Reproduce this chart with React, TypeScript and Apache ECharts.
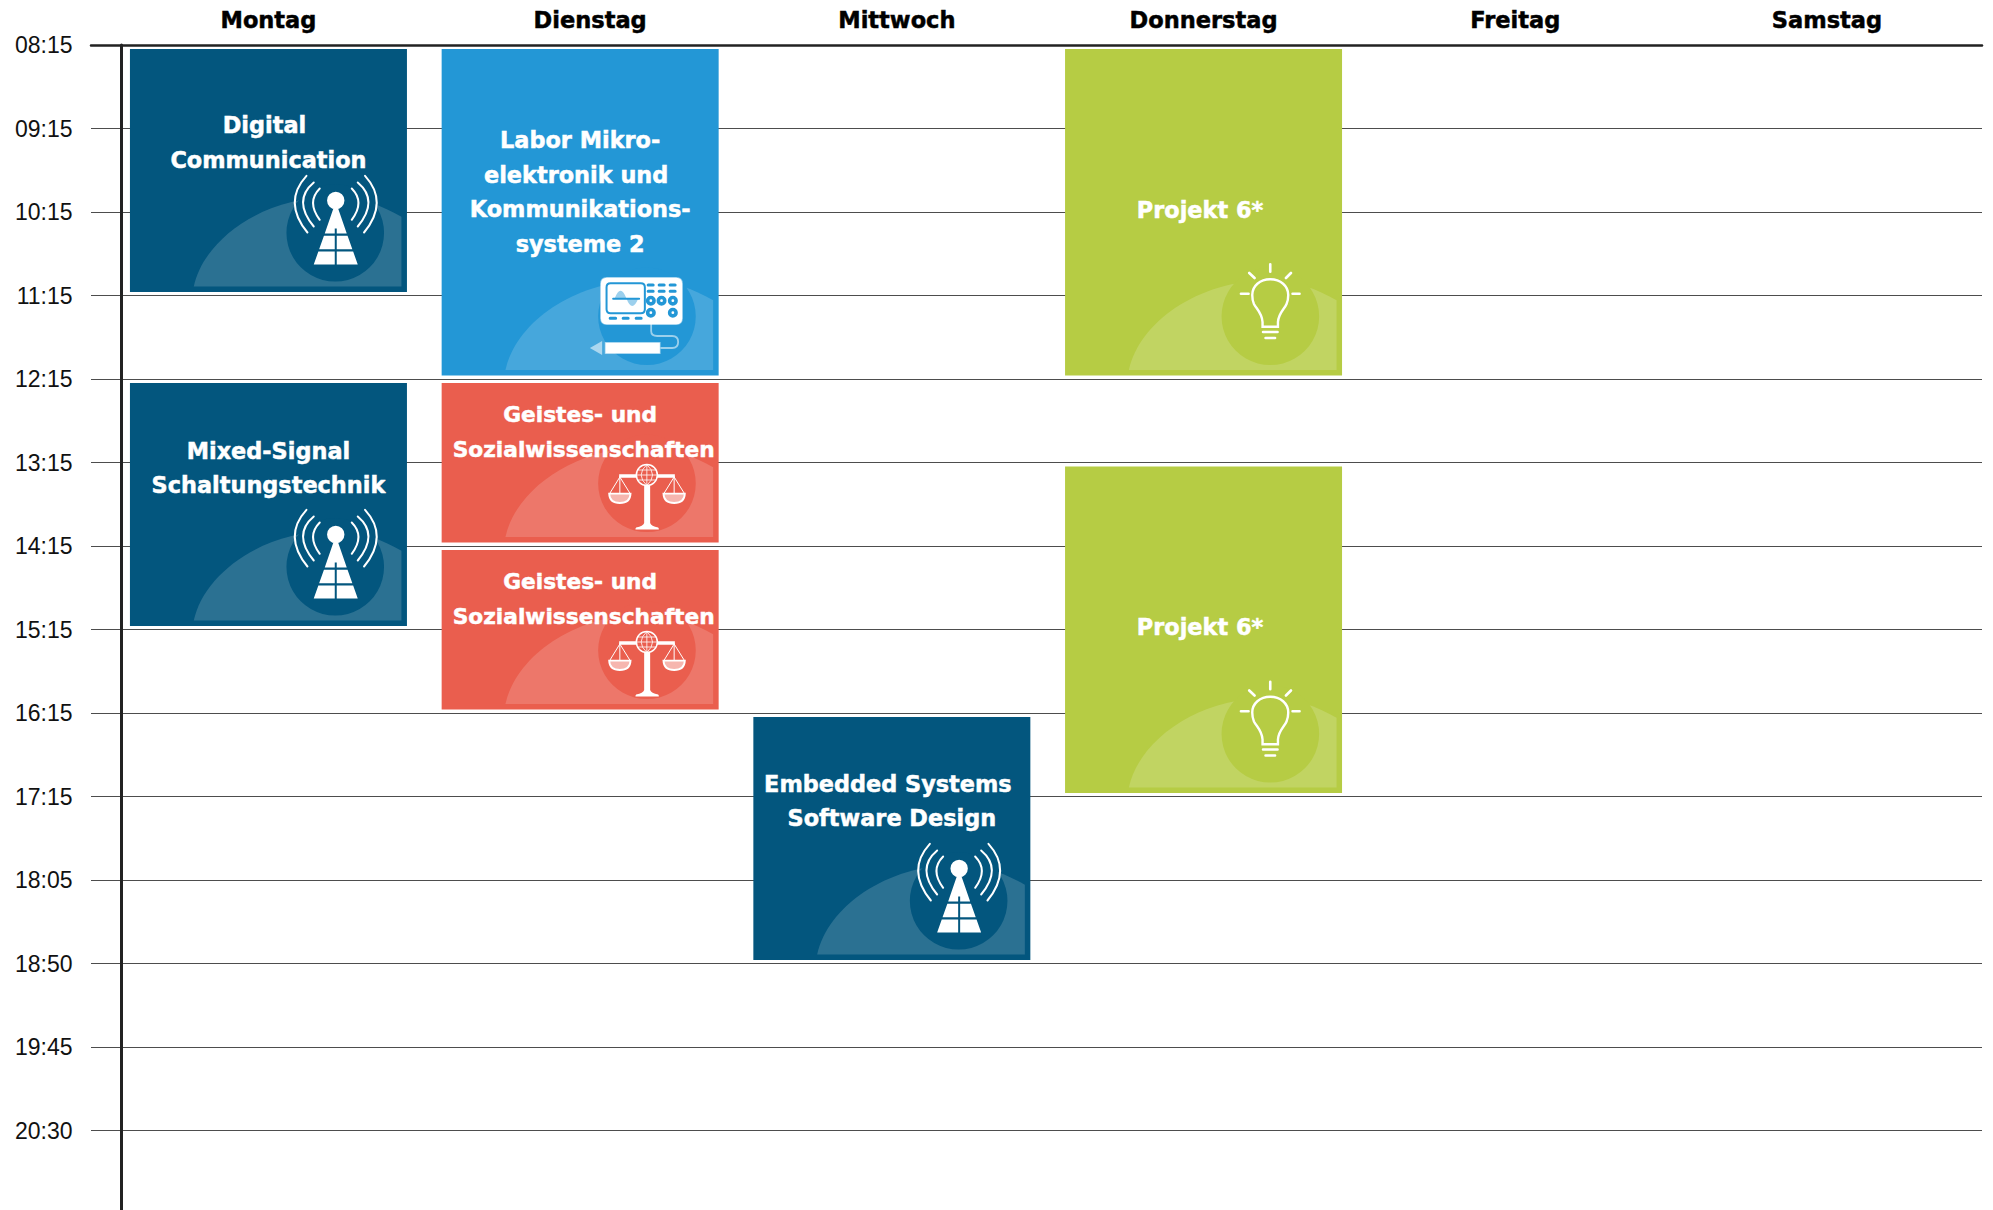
import React, { useEffect, useRef } from "react";
import * as echarts from "echarts";

const days = ["Montag", "Dienstag", "Mittwoch", "Donnerstag", "Freitag", "Samstag"];
const timeLabels = ["08:15", "09:15", "10:15", "11:15", "12:15", "13:15", "14:15", "15:15", "16:15", "17:15", "18:05", "18:50", "19:45", "20:30"];

const courseTitles = [
  ["Digital", "Communication"],
  ["Labor Mikro-", "elektronik und", "Kommunikations-", "systeme 2"],
  ["Projekt 6*"],
  ["Mixed-Signal", "Schaltungstechnik"],
  ["Geistes- und", "Sozialwissenschaften"],
  ["Projekt 6*"],
  ["Geistes- und", "Sozialwissenschaften"],
  ["Embedded Systems", "Software Design"],
];
const courseDays = [0, 1, 3, 0, 1, 3, 1, 2];
const courseStarts = [0, 0, 0, 4, 4, 5, 6, 8];
const courseEnds = [3, 4, 4, 7, 6, 9, 8, 11];
const courseThemes = ["tech", "lab", "project", "tech", "human", "project", "human", "tech"];

const themeColors: Record<string, string> = { tech: "#03567E", lab: "#2397D6", project: "#B6CC44", human: "#EA5E4E" };
const titleOffsets = [93.5, 143, 161, 85, 49, 160, 49, 84];
const lineShifts: Record<string, number> = { Digital: -4, "elektronik und": -4, "Embedded Systems": -4, "Projekt 6*": -3.5, Sozialwissenschaften: 3.5 };

const reg = (name: string, d: string) => echarts.graphic.registerShape(name, echarts.graphic.extendPath(d, {}));
const circ = (x: number, y: number, r: number) => `M${x - r},${y} a${r},${r} 0 1,0 ${2 * r},0 a${r},${r} 0 1,0 ${-2 * r},0 Z `;

reg("decoHill", "M-207.7,0 C-197.7,-46.7 -139.7,-89.7 -66.7,-89.7 C-41.7,-89.7 -19.7,-80.7 0,-69.7 L0,0 Z");
reg("towerBody",
  "M-87.7,-22 L-66.7,-22 L-66.7,-35 L-83.1,-35 Z M-64.7,-22 L-43.7,-22 L-48.3,-35 L-64.7,-35 Z " +
  "M-82.3,-37.3 L-66.7,-37.3 L-66.7,-50.7 L-77.5,-50.7 Z M-64.7,-37.3 L-49.1,-37.3 L-53.9,-50.7 L-64.7,-50.7 Z " +
  "M-76.7,-53 L-66.7,-53 L-66.7,-58 L-64.7,-58 L-64.7,-53 L-54.7,-53 L-64.7,-82 L-66.7,-82 Z " + circ(-65.7, -86, 8.7));
reg("towerWaves",
  "M-95,-110.7 Q-118.9,-84.5 -94,-54 M-87.7,-104 Q-109.1,-86 -87.7,-60 M-81.7,-98 Q-95.1,-84.5 -81.7,-66.7 " +
  "M-36.4,-110.7 Q-12.5,-84.5 -37.4,-54 M-43.7,-104 Q-22.3,-86 -43.7,-60 M-49.7,-98 Q-36.3,-84.5 -49.7,-66.7");
reg("scopeBody", "M-106.3,-92.3 L-37,-92.3 Q-31,-92.3 -31,-86.3 L-31,-51.7 Q-31,-45.7 -37,-45.7 L-106.3,-45.7 Q-112.3,-45.7 -112.3,-51.7 L-112.3,-86.3 Q-112.3,-92.3 -106.3,-92.3 Z");
reg("scopeScreen", "M-102.6,-86.7 L-72.3,-86.7 Q-68.3,-86.7 -68.3,-82.7 L-68.3,-60.7 Q-68.3,-56.7 -72.3,-56.7 L-102.6,-56.7 Q-106.6,-56.7 -106.6,-60.7 L-106.6,-82.7 Q-106.6,-86.7 -102.6,-86.7 Z M-100,-71.3 L-74,-71.3");
reg("scopeLobes", "M-98.6,-71.3 Q-92.6,-87.3 -86.6,-71.3 Z M-86.6,-71.3 Q-81,-56.7 -75,-71.3 Z");
reg("scopePills",
  "M-65,-85 L-60,-85 M-54,-85 L-49,-85 M-43,-85 L-38,-85 M-65,-78.7 L-60,-78.7 M-54,-78.7 L-49,-78.7 M-43,-78.7 L-38,-78.7 " +
  "M-103,-51.7 L-97.5,-51.7 M-90,-51.7 L-85,-51.7 M-77,-51.7 L-72,-51.7");
reg("scopeKnobs", circ(-62.3, -69.3, 5) + circ(-51.6, -69.3, 5) + circ(-40.3, -69.3, 5) + circ(-62.3, -57.3, 5) + circ(-40.3, -57.3, 5));
reg("scopeDots", circ(-62.3, -69.3, 1.4) + circ(-51.6, -69.3, 1.4) + circ(-40.3, -69.3, 1.4) + circ(-62.3, -57.3, 1.4) + circ(-40.3, -57.3, 1.4));
reg("scopeCable", "M-62,-46 L-62,-39 Q-62,-34 -56,-34 L-41,-34 Q-35,-34 -35,-28 Q-35,-22 -41,-22 L-52,-22");
reg("scopeProbe", "M-107.6,-27.3 L-53.3,-27.3 L-53.3,-16.7 L-107.6,-16.7 Z");
reg("scopeTip", "M-111,-29 L-111,-15 L-123.3,-22 Z");
reg("scaleSolid",
  "M-94,-62.7 L-38.3,-62.7 L-38.3,-59.3 L-94,-59.3 Z M-69,-52 L-63,-52 L-63,-14 Q-62,-11 -55,-9.5 Q-53.5,-7.4 -55,-7.4 L-77,-7.4 Q-78.5,-7.4 -77,-9.5 Q-70,-11 -69,-14 Z");
reg("scaleStrings", "M-93.3,-60 L-103.5,-43.4 M-93.3,-60 L-83,-43.4 M-93.3,-60 L-93.3,-43.4 M-39,-60 L-49.3,-43.4 M-39,-60 L-28.7,-43.4 M-39,-60 L-39,-43.4");
reg("scalePans", "M-104,-43.4 L-82.6,-43.4 Q-83,-34 -93.3,-34 Q-103.6,-34 -104,-43.4 Z M-49.7,-43.4 L-28.3,-43.4 Q-28.7,-34 -39,-34 Q-49.3,-34 -49.7,-43.4 Z");
reg("scaleGlobe", circ(-66.3, -62, 10.5));
reg("scaleGrid", "M-76.8,-62 L-55.8,-62 M-75.5,-67 L-57.1,-67 M-75.5,-57 L-57.1,-57 M-66.3,-72.5 L-66.3,-51.5 M-66.3,-72.5 Q-78,-62 -66.3,-51.5 M-66.3,-72.5 Q-54.6,-62 -66.3,-51.5");
reg("bulbGlass", "M-74,-43.3 L-58.6,-43.3 L-58.6,-48 C-58,-57 -52,-61 -50,-66 C-48.3,-70 -48.3,-72 -48.3,-75 C-48.3,-84 -56,-90.7 -66.3,-90.7 C-76.6,-90.7 -84.3,-84 -84.3,-75 C-84.3,-72 -84.3,-70 -82.6,-66 C-80,-61 -74.6,-57 -74,-48 Z");
reg("bulbRays",
  "M-73.5,-38 L-59,-38 M-71,-32 L-61.5,-32 M-66.3,-105.7 L-66.3,-98.3 M-87.3,-97 L-82,-92 M-45.6,-97 L-50.6,-92 M-95.6,-76.3 L-88,-76.3 M-44,-76.3 L-37,-76.3");

const WHITE = "#ffffff";
function iconParts(theme: string, color: string): any[] {
  const s = (type: string, style: any) => ({ type, style });
  const line = (type: string, lineWidth: number, stroke = WHITE, lineCap = "round") =>
    s(type, { fill: "none", stroke, lineWidth, lineCap });
  if (theme === "tech") return [s("towerBody", { fill: WHITE }), line("towerWaves", 2)];
  if (theme === "project") return [line("bulbGlass", 2.4), line("bulbRays", 2.6)];
  if (theme === "human")
    return [
      line("scaleStrings", 1),
      s("scalePans", { fill: "rgba(255,255,255,0.55)", stroke: WHITE, lineWidth: 1.8 }),
      s("scaleSolid", { fill: WHITE }),
      s("scaleGlobe", { fill: color, stroke: WHITE, lineWidth: 1.5 }),
      line("scaleGrid", 0.8),
    ];
  return [
    line("scopeCable", 1.8, "rgba(255,255,255,0.55)"),
    s("scopeTip", { fill: "rgba(255,255,255,0.55)" }),
    s("scopeProbe", { fill: WHITE, stroke: "rgba(255,255,255,0.5)", lineWidth: 1.5 }),
    s("scopeBody", { fill: WHITE, stroke: "rgba(255,255,255,0.5)", lineWidth: 1.5 }),
    s("scopeLobes", { fill: "rgba(35,151,214,0.45)" }),
    line("scopeScreen", 2, color),
    line("scopePills", 3, color),
    s("scopeKnobs", { fill: color }),
    s("scopeDots", { fill: WHITE }),
  ];
}

const BOX_WIDTH = 277;
const INSET = 4;
const LINE_STEP = 34.4;

function renderCourse(_: any, api: any) {
  const i = api.value(3);
  const [cx, top] = api.coord([api.value(0), api.value(1)]);
  const [, bottom] = api.coord([api.value(0), api.value(2)]);
  const theme = courseThemes[i];
  const color = themeColors[theme];
  const x = cx - BOX_WIDTH / 2;
  const y = top + INSET;
  const h = bottom - top - 2 * INSET + 0.5;
  const R = x + BOX_WIDTH - 5.5;
  const B = y + h - 5.5;
  const lines = courseTitles[i];
  const mid = y + titleOffsets[i];
  return {
    type: "group",
    children: [
      { type: "rect", shape: { x, y, width: BOX_WIDTH, height: h }, style: { fill: color } },
      {
        type: "group",
        x: R,
        y: B,
        children: [
          { type: "decoHill", style: { fill: "rgba(255,255,255,0.16)" } },
          { type: "circle", shape: { cx: -66.2, cy: -53.7, r: 48.8 }, style: { fill: color } },
          ...iconParts(theme, color),
        ],
      },
      ...lines.map((t, k) => ({
        type: "text",
        x: cx + (lineShifts[t] || 0),
        y: mid + (k - (lines.length - 1) / 2) * LINE_STEP,
        style: {
          text: t,
          fill: WHITE,
          stroke: WHITE,
          lineWidth: 0.5,
          align: "center",
          verticalAlign: "middle",
          fontFamily: "DejaVu Sans",
          fontWeight: "bold",
          fontSize: theme === "human" ? 21.7 : 22.4,
        },
      })),
    ],
  };
}

export default function App() {
  const ref = useRef<HTMLDivElement>(null);
  useEffect(() => {
    document.body.style.margin = "0";
    const chart = echarts.init(ref.current!, null, { renderer: "svg" });
    chart.setOption({
      animation: false,
      backgroundColor: "#ffffff",
      grid: [
        { left: 91, top: 45, width: 1891, height: 1169, outerBoundsMode: "none" },
        { left: 112.6, top: 45, width: 1870.2, height: 1169, outerBoundsMode: "none" },
      ],
      xAxis: [
        {
          gridIndex: 0,
          type: "value",
          position: "top",
          min: -30.5,
          max: 1860.5,
          axisLine: { show: true, onZero: false, lineStyle: { color: "#222222", width: 2.5 } },
          axisTick: { show: false },
          axisLabel: { show: false },
          splitLine: { show: false },
        },
        {
          gridIndex: 1,
          type: "category",
          position: "top",
          data: days.map((d) => ({
            value: d,
            textStyle: d === "Dienstag" ? { padding: [0, 0, 0, 20] } : d === "Mittwoch" ? { padding: [0, 0, 0, 10] } : {},
          })),
          axisLine: { show: false },
          axisTick: { show: false },
          splitLine: { show: false },
          axisLabel: { interval: 0, margin: 14, fontFamily: "DejaVu Sans", fontWeight: "bold", fontSize: 22.5, color: "#000000", textBorderColor: "#000000", textBorderWidth: 0.5 },
        },
      ],
      yAxis: [
        {
          gridIndex: 0,
          type: "value",
          inverse: true,
          min: 0,
          max: 14,
          interval: 1,
          axisLine: { show: true, onZero: true, lineStyle: { color: "#222222", width: 3 } },
          axisTick: { show: false },
          splitLine: { show: true, lineStyle: { color: "#4d4d4d", width: 1 } },
          axisLabel: {
            margin: 18.5,
            fontFamily: "Liberation Sans",
            fontSize: 23,
            color: "#111111",
            formatter: (v: number) => timeLabels[v] ?? "",
          },
        },
        { gridIndex: 1, type: "value", inverse: true, min: 0, max: 14, show: false },
      ],
      series: [
        {
          type: "custom",
          xAxisIndex: 1,
          yAxisIndex: 1,
          clip: false,
          z: 5,
          renderItem: renderCourse,
          encode: { x: 0, y: [1, 2] },
          data: courseDays.map((d, i) => [d, courseStarts[i], courseEnds[i], i]),
        },
      ],
    });
    return () => chart.dispose();
  }, []);
  return <div ref={ref} style={{ width: 1993, height: 1210 }} />;
}
